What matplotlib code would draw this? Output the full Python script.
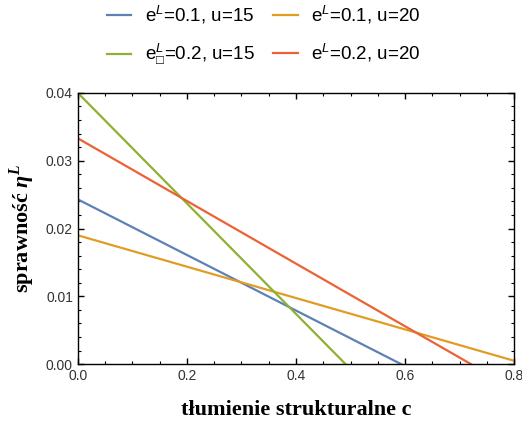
import matplotlib
matplotlib.use('Agg')
import matplotlib.pyplot as plt
from matplotlib.ticker import MultipleLocator

plt.rcParams['mathtext.fontset'] = 'custom'
plt.rcParams['mathtext.rm'] = 'Liberation Sans'
plt.rcParams['mathtext.it'] = 'Liberation Sans:italic'
plt.rcParams['mathtext.cal'] = 'Liberation Serif:italic:bold'
plt.rcParams['mathtext.fallback'] = 'stix'

# endpoints of each straight line (c, eta)
c_blue = [0.0, 0.593]
eta_blue = [0.0243, 0.0]
c_orange = [0.0, 0.8]
eta_orange = [0.0190, 0.0005]
c_green = [0.0, 0.491]
eta_green = [0.0400, 0.0]
c_red = [0.0, 0.721]
eta_red = [0.0333, 0.0]

labels = ['e$^{\\mathit{L}}$=0.1, u=15',
          'e$^{\\mathit{L}}$=0.1, u=20',
          'e$^{\\mathit{L}}_{\u25a1}$=0.2, u=15',
          'e$^{\\mathit{L}}$=0.2, u=20']
colors = ['#5e81b5', '#e19c24', '#8fb032', '#eb6235']

fig = plt.figure(figsize=(5.22, 4.22), dpi=100, facecolor='w')
ax = fig.add_axes([0.149, 0.137, 0.836, 0.643])

l1, = ax.plot(c_blue, eta_blue, color=colors[0], lw=1.6)
l2, = ax.plot(c_orange, eta_orange, color=colors[1], lw=1.6)
l3, = ax.plot(c_green, eta_green, color=colors[2], lw=1.6)
l4, = ax.plot(c_red, eta_red, color=colors[3], lw=1.6)

ax.set_xlim(0, 0.8)
ax.set_ylim(0, 0.04)
ax.xaxis.set_major_locator(MultipleLocator(0.2))
ax.xaxis.set_minor_locator(MultipleLocator(0.05))
ax.yaxis.set_major_locator(MultipleLocator(0.01))
ax.yaxis.set_minor_locator(MultipleLocator(0.002))
ax.xaxis.set_major_formatter(plt.FuncFormatter(lambda v, p: '%.1f' % v))
ax.yaxis.set_major_formatter(plt.FuncFormatter(lambda v, p: '%.2f' % v))
ax.tick_params(which='both', direction='in', top=True, right=True,
               labelsize=10, labelcolor='#333333')
ax.tick_params(which='major', length=4, width=1)
ax.tick_params(which='minor', length=2.5, width=0.8)
for lab in ax.get_xticklabels() + ax.get_yticklabels():
    lab.set_family('Liberation Sans')
for s in ax.spines.values():
    s.set_linewidth(1.0)

ax.set_xlabel('tłumienie strukturalne c', family='Liberation Serif',
              fontsize=16, fontweight='bold', labelpad=12)
ax.set_ylabel('sprawność $\\mathcal{\\eta}^{\\mathcal{L}}$', family='Liberation Serif',
              fontsize=16, fontweight='bold', labelpad=6)

# row-wise order for a two-column legend
fig.legend([l1, l3, l2, l4], [labels[0], labels[2], labels[1], labels[3]],
           ncol=2, loc='upper center',
           bbox_to_anchor=(0.505, 1.03), frameon=False,
           prop={'family': 'Liberation Sans', 'size': 13.5},
           handlelength=1.3, handletextpad=0.7, columnspacing=1.0,
           labelspacing=0.85)

fig.savefig('out.png', dpi=100)
